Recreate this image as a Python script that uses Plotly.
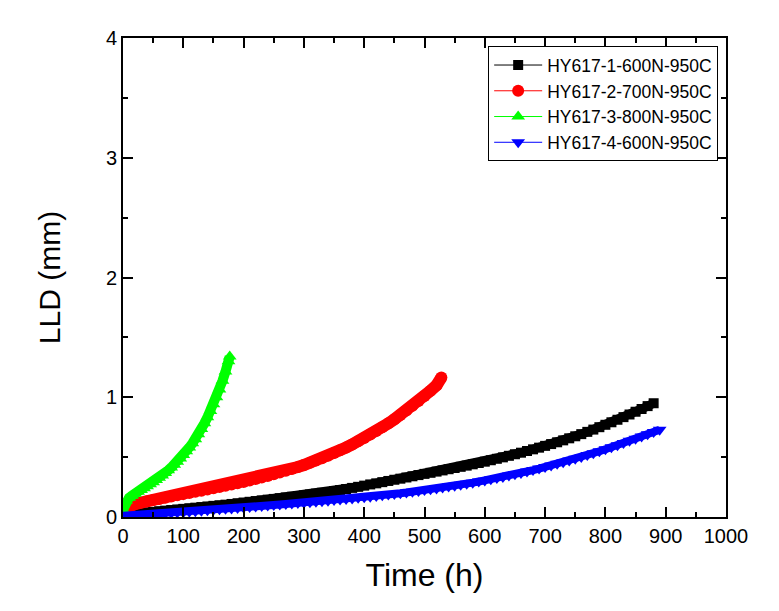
import plotly.graph_objects as go

# ---- data ----
t_black = list(range(0, 881, 10))
lld_black = [0.020, 0.024, 0.029, 0.034, 0.039, 0.043, 0.048, 0.053, 0.058, 0.063,
             0.068, 0.073, 0.078, 0.083, 0.088, 0.093, 0.098, 0.103, 0.109, 0.115,
             0.121, 0.127, 0.133, 0.139, 0.145, 0.151, 0.157, 0.163, 0.169, 0.175,
             0.181, 0.188, 0.195, 0.202, 0.209, 0.217, 0.225, 0.234, 0.243, 0.252,
             0.262, 0.272, 0.281, 0.291, 0.301, 0.311, 0.320, 0.330, 0.340, 0.350,
             0.360, 0.369, 0.379, 0.389, 0.399, 0.409, 0.419, 0.429, 0.440, 0.451,
             0.462, 0.474, 0.486, 0.498, 0.511, 0.524, 0.537, 0.551, 0.565, 0.579,
             0.594, 0.609, 0.624, 0.640, 0.657, 0.674, 0.692, 0.711, 0.730, 0.750,
             0.770, 0.791, 0.812, 0.834, 0.856, 0.879, 0.902, 0.926, 0.950]

t_red = list(range(0, 521, 10)) + [528]
lld_red = [0.060, 0.090, 0.108, 0.120, 0.131, 0.141, 0.151, 0.161, 0.171, 0.181, 0.191,
           0.200, 0.210, 0.220, 0.230, 0.240, 0.250, 0.260, 0.271, 0.282, 0.293,
           0.305, 0.317, 0.330, 0.343, 0.357, 0.371, 0.386, 0.401, 0.417, 0.434,
           0.452, 0.471, 0.491, 0.512, 0.534, 0.557, 0.581, 0.606, 0.632, 0.659,
           0.688, 0.718, 0.749, 0.782, 0.816, 0.852, 0.889, 0.928, 0.968, 1.010,
           1.054, 1.100, 1.165]

t_green = list(range(0, 176, 5)) + [177]
lld_green = [0.060, 0.135, 0.160, 0.178, 0.194, 0.210, 0.225, 0.241, 0.257, 0.273,
             0.290, 0.308, 0.327, 0.347, 0.368, 0.390, 0.413, 0.437, 0.462, 0.488,
             0.518, 0.549, 0.581, 0.615, 0.650, 0.690, 0.735, 0.782, 0.832, 0.885,
             0.941, 1.000, 1.065, 1.137, 1.215, 1.300, 1.340]

t_blue = list(range(0, 891, 10))
lld_blue = [0.010, 0.013, 0.016, 0.019, 0.022, 0.025, 0.028, 0.031, 0.034, 0.037, 0.040,
            0.044, 0.048, 0.052, 0.056, 0.060, 0.064, 0.068, 0.072, 0.076, 0.080,
            0.084, 0.088, 0.092, 0.096, 0.100, 0.104, 0.108, 0.112, 0.116, 0.120,
            0.124, 0.128, 0.132, 0.136, 0.141, 0.146, 0.150, 0.155, 0.160, 0.165,
            0.170, 0.175, 0.181, 0.187, 0.193, 0.199, 0.205, 0.211, 0.218, 0.225,
            0.232, 0.239, 0.246, 0.254, 0.262, 0.270, 0.278, 0.287, 0.296, 0.305,
            0.315, 0.325, 0.335, 0.346, 0.357, 0.368, 0.380, 0.392, 0.404, 0.417,
            0.430, 0.444, 0.458, 0.472, 0.487, 0.502, 0.517, 0.533, 0.549, 0.566,
            0.583, 0.600, 0.618, 0.636, 0.654, 0.672, 0.691, 0.710, 0.729]

names = ["HY617-1-600N-950C", "HY617-2-700N-950C", "HY617-3-800N-950C", "HY617-4-600N-950C"]
colors = ["#000000", "#ff0000", "#00ff00", "#0000ff"]
symbols = ["square", "circle", "triangle-up", "triangle-down"]
sizes = [10, 12, 12, 12]
band_widths = [9, 12, 10, 8]
series_t = [t_black, t_red, t_green, t_blue]
series_y = [lld_black, lld_red, lld_green, lld_blue]

x_ticks = list(range(0, 1001, 100))
y_ticks = [0, 1, 2, 3, 4]

fig = go.Figure()
for i, (n, c, s, sz, bw, tx, ty) in enumerate(zip(names, colors, symbols, sizes, band_widths, series_t, series_y)):
    # dense symbol band (symbols overlap into a continuous band in the original)
    fig.add_trace(go.Scatter(
        x=tx, y=ty, mode="lines", line=dict(color=c, width=bw),
        showlegend=False, legendgroup=f"g{i}", hoverinfo="skip",
    ))
    fig.add_trace(go.Scatter(
        x=tx, y=ty, name=n, mode="lines+markers", legendgroup=f"g{i}",
        line=dict(color=c, width=1),
        marker=dict(color=c, symbol=s, size=sz, line=dict(width=0)),
    ))

font_family = "Arial, Liberation Sans, sans-serif"
axis_common = dict(
    showline=True, linecolor="black", linewidth=2, mirror="ticks",
    ticks="inside", ticklen=10, tickwidth=1.5, tickcolor="black",
    showgrid=False, zeroline=False,
    tickfont=dict(family=font_family, size=20, color="black"),
)

fig.update_xaxes(
    range=[0, 1000], tickvals=x_ticks, ticktext=[str(v) for v in x_ticks],
    minor=dict(ticks="inside", ticklen=5, tickwidth=1.5, tickcolor="black", dtick=50, showgrid=False),
    title=dict(text="Time (h)", font=dict(family=font_family, size=32, color="black"), standoff=18),
    **axis_common,
)
fig.update_yaxes(
    range=[0, 4], tickvals=y_ticks, ticktext=[str(v) for v in y_ticks],
    minor=dict(ticks="inside", ticklen=5, tickwidth=1.5, tickcolor="black", dtick=0.5, showgrid=False),
    title=dict(text="LLD (mm)", font=dict(family=font_family, size=30, color="black"), standoff=36),
    **axis_common,
)

# page body has an 8px margin, so the figure is 8px smaller than the window
fig.update_layout(
    width=771, height=603,
    margin=dict(l=115, r=53, t=30, b=94),
    paper_bgcolor="white", plot_bgcolor="white",
    showlegend=True,
    legend=dict(
        x=0.987, y=0.983, xanchor="right", yanchor="top",
        bordercolor="black", borderwidth=1, bgcolor="white",
        font=dict(family=font_family, size=17.5, color="black"),
        tracegroupgap=0, itemwidth=48,
    ),
)

fig.write_html("out.html")
